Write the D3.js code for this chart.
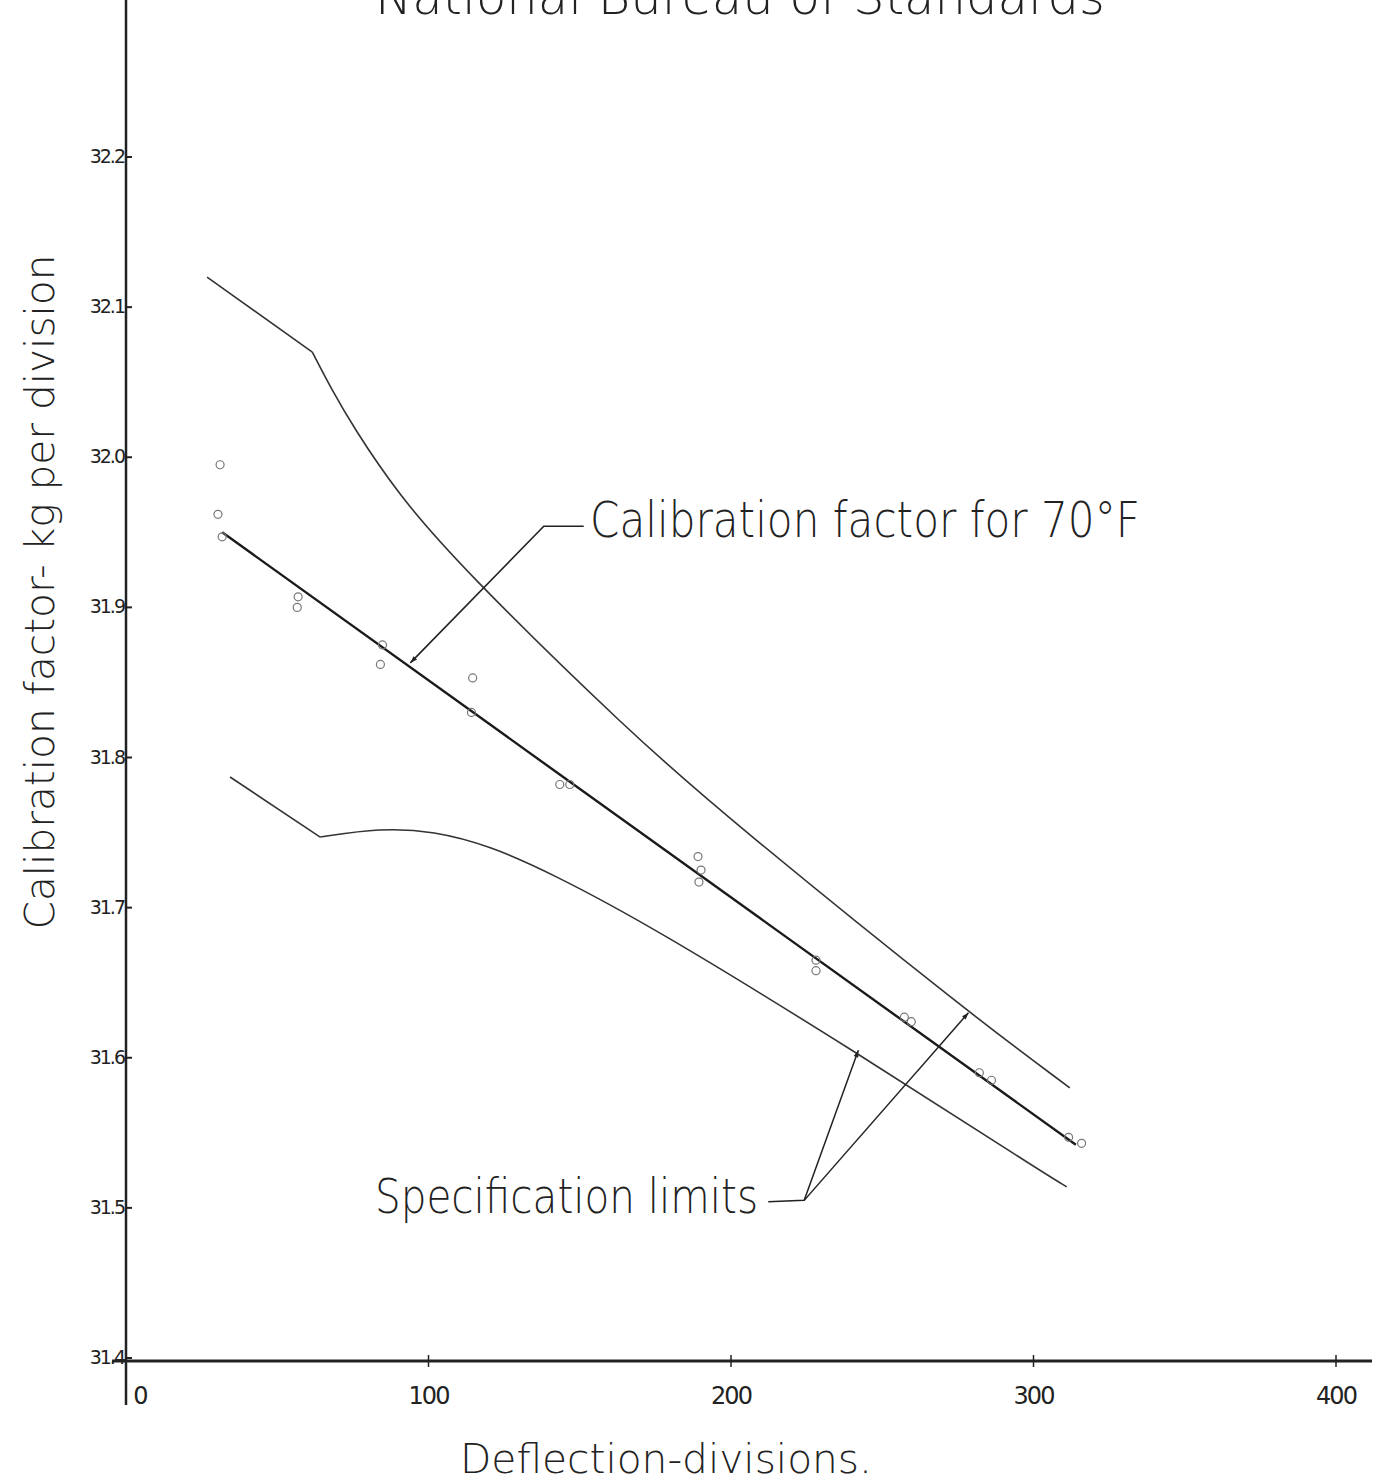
<!DOCTYPE html>
<html>
<head>
<meta charset="utf-8">
<script src="https://cdn.jsdelivr.net/npm/d3@7"></script>
<style>
  body { margin: 0; background: #fff; }
  text { font-family: "DejaVu Sans", sans-serif; fill: #222; }
</style>
</head>
<body>
<div id="chart"></div>
<script>

// calibration factor (kg per division) vs deflection (divisions)
var xTicks = [0, 100, 200, 300, 400];
var yTicks = [31.4, 31.5, 31.6, 31.7, 31.8, 31.9, 32.0, 32.1, 32.2];

var centerLine = [[31.8, 31.950], [314, 31.542]];

// first two points are joined by a straight segment, the rest is a smooth curve
var upperLimit = [[26.8, 32.120], [61.6, 32.070], [68.0, 32.045], [75.2, 32.020], [89.7, 31.976],
                  [110.6, 31.927], [166.9, 31.816], [200, 31.758],
                  [278.5, 31.630], [312, 31.580]];

var lowerLimit = [[34.4, 31.787], [64.2, 31.747], [84.1, 31.753], [101.7, 31.751],
                  [120.5, 31.741], [140.4, 31.723], [173.5, 31.688], [242, 31.603],
                  [302, 31.525], [311, 31.514]];

var points = [[31.1, 31.995], [30.4, 31.962], [31.8, 31.947],
              [56.9, 31.907], [56.6, 31.900],
              [84.8, 31.875], [84.1, 31.862],
              [114.6, 31.853], [114.2, 31.830],
              [143.4, 31.782], [146.7, 31.782],
              [189.1, 31.734], [189.4, 31.717], [190.1, 31.725],
              [228.1, 31.665], [228.1, 31.658],
              [257.3, 31.627], [259.6, 31.624],
              [282.1, 31.590], [286.1, 31.585],
              [311.6, 31.547], [315.9, 31.543]];

// leader lines (data units)
var calLeader = [[151.3, 31.954], [138.1, 31.954], [94.0, 31.863]];
var specLeaderA = [[212.3, 31.504], [224.2, 31.505], [242.1, 31.605]];
var specLeaderB = [[224.2, 31.505], [278.5, 31.630]];

var width = 1378, height = 1484;

var svg = d3.select("#chart").append("svg")
    .attr("width", width)
    .attr("height", height);

var x = d3.scaleLinear().domain([0, 400]).range([126, 1336]);
var y = d3.scaleLinear().domain([31.4, 32.2]).range([1358, 157]);

var line = d3.line().x(function (d) { return x(d[0]); }).y(function (d) { return y(d[1]); });
var curve = d3.line().curve(d3.curveBasis)
    .x(function (d) { return x(d[0]); }).y(function (d) { return y(d[1]); });

// arrow head
svg.append("defs").append("marker")
    .attr("id", "arrow")
    .attr("viewBox", "0 0 10 10")
    .attr("refX", 10).attr("refY", 5)
    .attr("markerWidth", 15).attr("markerHeight", 7)
    .attr("markerUnits", "userSpaceOnUse")
    .attr("orient", "auto")
    .append("path")
    .attr("d", "M0,1.5 L10,5 L0,8.5 Z")
    .attr("fill", "#222");

// title (cut at top edge, as in the scan)
svg.append("text")
    .attr("x", 740).attr("y", 14)
    .attr("text-anchor", "middle")
    .attr("font-size", 50)
    .attr("font-weight", 200)
    .attr("textLength", 730)
    .attr("lengthAdjust", "spacingAndGlyphs")
    .text("National Bureau of Standards");

// axes
svg.append("line")
    .attr("x1", x(0)).attr("x2", x(0))
    .attr("y1", 0).attr("y2", 1405)
    .attr("stroke", "#222").attr("stroke-width", 2.5);
svg.append("line")
    .attr("x1", 112).attr("x2", 1372)
    .attr("y1", 1361).attr("y2", 1361)
    .attr("stroke", "#222").attr("stroke-width", 2.8);

// y ticks
svg.selectAll(".ytick").data(yTicks).enter().append("line")
    .attr("x1", x(0)).attr("x2", x(0) + 6)
    .attr("y1", function (d) { return y(d); })
    .attr("y2", function (d) { return y(d); })
    .attr("stroke", "#222").attr("stroke-width", 2);
svg.selectAll(".ylab").data(yTicks).enter().append("text")
    .attr("x", x(0) - 2)
    .attr("y", function (d) { return y(d) + 6; })
    .attr("text-anchor", "end")
    .attr("font-size", 19)
    .attr("letter-spacing", -2)
    .text(function (d) { return d.toFixed(1); });

// x ticks
svg.selectAll(".xtick").data(xTicks.slice(1)).enter().append("line")
    .attr("x1", function (d) { return x(d); })
    .attr("x2", function (d) { return x(d); })
    .attr("y1", 1355).attr("y2", 1367)
    .attr("stroke", "#222").attr("stroke-width", 1.5);
svg.selectAll(".xlab").data(xTicks).enter().append("text")
    .attr("x", function (d) { return d === 0 ? x(d) + 14 : x(d); })
    .attr("y", 1404)
    .attr("text-anchor", "middle")
    .attr("font-size", 24)
    .attr("letter-spacing", -2)
    .text(function (d) { return d; });

// axis titles
svg.append("text")
    .attr("transform", "translate(54,592) rotate(-90)")
    .attr("text-anchor", "middle")
    .attr("font-size", 40)
    .attr("font-weight", 200)
    .attr("textLength", 675)
    .attr("lengthAdjust", "spacingAndGlyphs")
    .text("Calibration factor- kg per division");

svg.append("text")
    .attr("x", 666).attr("y", 1473)
    .attr("text-anchor", "middle")
    .attr("font-size", 41)
    .attr("font-weight", 200)
    .attr("textLength", 412)
    .attr("lengthAdjust", "spacingAndGlyphs")
    .text("Deflection-divisions.");

// limit curves: straight first segment, smooth remainder
[upperLimit, lowerLimit].forEach(function (lim) {
    svg.append("path").datum(lim.slice(0, 2))
        .attr("d", line).attr("fill", "none")
        .attr("stroke", "#333").attr("stroke-width", 1.6);
    svg.append("path").datum(lim.slice(1))
        .attr("d", curve).attr("fill", "none")
        .attr("stroke", "#333").attr("stroke-width", 1.6);
});

// calibration line
svg.append("path").datum(centerLine)
    .attr("d", line).attr("fill", "none")
    .attr("stroke", "#1a1a1a").attr("stroke-width", 2.4);

// observed points
svg.selectAll(".pt").data(points).enter().append("circle")
    .attr("cx", function (d) { return x(d[0]); })
    .attr("cy", function (d) { return y(d[1]); })
    .attr("r", 4)
    .attr("fill", "none")
    .attr("stroke", "#777").attr("stroke-width", 1.2);

// annotations
svg.append("path").datum(calLeader)
    .attr("d", line).attr("fill", "none")
    .attr("stroke", "#222").attr("stroke-width", 1.6)
    .attr("marker-end", "url(#arrow)");
svg.append("text")
    .attr("x", 590).attr("y", 537)
    .attr("font-size", 50)
    .attr("font-weight", 200)
    .attr("textLength", 550)
    .attr("lengthAdjust", "spacingAndGlyphs")
    .text("Calibration factor for 70\u00B0F");

svg.append("path").datum(specLeaderA)
    .attr("d", line).attr("fill", "none")
    .attr("stroke", "#222").attr("stroke-width", 1.5)
    .attr("marker-end", "url(#arrow)");
svg.append("path").datum(specLeaderB)
    .attr("d", line).attr("fill", "none")
    .attr("stroke", "#222").attr("stroke-width", 1.5)
    .attr("marker-end", "url(#arrow)");
svg.append("text")
    .attr("x", 375).attr("y", 1213)
    .attr("font-size", 48)
    .attr("font-weight", 200)
    .attr("textLength", 383)
    .attr("lengthAdjust", "spacingAndGlyphs")
    .text("Specification limits");

</script>
</body>
</html>
